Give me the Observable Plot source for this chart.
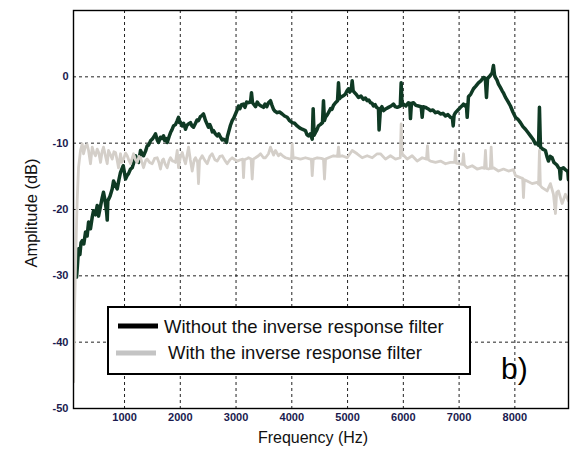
<!DOCTYPE html>
<html><head><meta charset="utf-8">
<script src="https://cdn.jsdelivr.net/npm/d3@7"></script>
<script src="https://cdn.jsdelivr.net/npm/@observablehq/plot@0.6"></script>
<style>
body{margin:0;background:#fff;}
#chart{width:573px;height:466px;}
</style>
</head><body><div id="chart"></div>
<script>
const xTicks = [1000, 2000, 3000, 4000, 5000, 6000, 7000, 8000];
const yTicks = [-50, -40, -30, -20, -10, 0];
const seriesNames = ["Without the inverse response filter", "With the inverse response filter"];

// [frequency (Hz), amplitude (dB)] — without the inverse response filter
const withoutFilter = [[140,-30.2],[155,-28.5],[175,-25.9],[200,-26.8],[220,-25.0],[242,-24.7],[270,-25.2],[301,-23.4],[330,-24.0],[355,-21.9],[375,-22.4],[390,-22.9],[420,-21.2],[444,-20.2],[480,-20.8],[510,-19.4],[534,-21.0],[570,-19.5],[600,-18.2],[623,-17.4],[650,-18.6],[680,-20.5],[690,-21.6],[700,-18.7],[740,-18.0],[779,-16.9],[803,-15.7],[840,-16.4],[869,-16.9],[900,-15.5],[928,-14.4],[977,-13.4],[1018,-15.4],[1045,-14.9],[1072,-14.6],[1108,-13.9],[1138,-13.7],[1170,-12.8],[1197,-11.9],[1228,-12.7],[1251,-12.9],[1287,-11.1],[1317,-11.6],[1341,-11.9],[1377,-11.2],[1407,-10.4],[1430,-10.3],[1470,-9.6],[1497,-9.4],[1530,-9.0],[1556,-8.6],[1586,-9.5],[1610,-9.9],[1645,-9.1],[1676,-9.3],[1700,-8.9],[1720,-9.6],[1745,-9.3],[1766,-9.9],[1800,-9.0],[1825,-8.4],[1850,-8.0],[1879,-7.4],[1914,-7.2],[1945,-6.6],[1968,-6.1],[1985,-6.9],[2000,-6.8],[2035,-7.4],[2060,-7.0],[2094,-7.9],[2120,-7.3],[2148,-7.1],[2183,-6.9],[2210,-7.4],[2237,-7.6],[2273,-7.0],[2300,-6.5],[2327,-6.6],[2360,-6.0],[2393,-5.8],[2416,-5.6],[2435,-6.1],[2452,-6.6],[2480,-7.1],[2506,-7.6],[2530,-7.2],[2550,-7.6],[2575,-8.3],[2596,-8.1],[2630,-8.6],[2662,-8.9],[2690,-8.6],[2721,-9.1],[2750,-9.5],[2775,-9.4],[2810,-9.6],[2829,-9.9],[2845,-9.0],[2865,-8.4],[2900,-7.3],[2931,-6.6],[2960,-6.2],[2990,-5.6],[3020,-5.0],[3044,-4.4],[3070,-4.8],[3100,-4.2],[3134,-4.1],[3160,-4.6],[3190,-3.8],[3223,-3.9],[3260,-3.8],[3277,-2.4],[3295,-3.9],[3313,-4.1],[3350,-4.5],[3380,-3.8],[3403,-4.1],[3450,-4.4],[3492,-4.6],[3520,-4.1],[3550,-4.5],[3582,-3.9],[3618,-3.6],[3645,-4.3],[3672,-4.9],[3700,-5.2],[3738,-5.4],[3780,-5.3],[3828,-5.6],[3870,-5.9],[3917,-6.1],[3960,-6.6],[4007,-6.9],[4050,-7.0],[4096,-7.4],[4140,-7.7],[4186,-7.9],[4245,-8.1],[4270,-8.7],[4299,-8.9],[4330,-8.6],[4366,-9.4],[4383,-4.8],[4400,-8.8],[4425,-8.4],[4450,-8.0],[4478,-7.4],[4510,-7.2],[4550,-6.9],[4568,-3.6],[4586,-6.6],[4604,-6.1],[4630,-5.8],[4658,-5.4],[4694,-4.8],[4720,-4.9],[4747,-4.3],[4783,-3.9],[4820,-3.6],[4837,-0.9],[4855,-3.3],[4873,-3.1],[4915,-2.9],[4962,-2.6],[4990,-2.1],[5016,-1.8],[5040,-2.3],[5065,-2.0],[5083,-0.6],[5100,-2.1],[5130,-2.4],[5160,-2.7],[5196,-3.1],[5240,-2.9],[5285,-3.4],[5320,-3.2],[5352,-3.6],[5380,-3.5],[5411,-3.9],[5440,-4.0],[5465,-4.4],[5495,-4.2],[5520,-4.6],[5554,-4.8],[5565,-8.0],[5590,-4.8],[5615,-4.5],[5644,-5.1],[5690,-4.8],[5734,-4.6],[5780,-4.4],[5823,-4.1],[5855,-4.5],[5890,-4.6],[5945,-4.4],[5961,-0.9],[5978,-4.3],[6002,-4.1],[6045,-4.4],[6092,-3.9],[6115,-4.0],[6128,-6.3],[6145,-4.0],[6182,-3.9],[6225,-4.3],[6271,-4.4],[6320,-4.5],[6338,-6.1],[6355,-4.5],[6397,-4.6],[6440,-4.8],[6487,-5.1],[6530,-5.0],[6577,-5.4],[6620,-5.3],[6666,-5.6],[6710,-5.5],[6756,-5.9],[6800,-5.7],[6845,-6.1],[6880,-6.2],[6894,-7.4],[6910,-5.8],[6935,-5.4],[6980,-5.0],[7025,-4.6],[7050,-4.4],[7079,-4.1],[7105,-4.4],[7130,-4.2],[7145,-6.1],[7168,-3.0],[7210,-2.6],[7258,-1.8],[7300,-1.4],[7347,-0.9],[7390,-0.6],[7437,-0.1],[7470,-0.2],[7491,-3.1],[7510,-0.3],[7527,-0.1],[7560,0.2],[7593,0.6],[7616,1.7],[7635,0.3],[7652,-0.1],[7680,-0.5],[7706,-1.1],[7740,-1.6],[7772,-2.1],[7800,-2.5],[7832,-3.1],[7875,-3.7],[7921,-4.4],[7965,-5.3],[8011,-6.1],[8055,-6.4],[8100,-6.9],[8145,-7.5],[8190,-7.9],[8235,-8.4],[8280,-8.9],[8325,-9.4],[8369,-10.1],[8400,-10.0],[8425,-10.3],[8441,-4.6],[8459,-10.6],[8500,-10.9],[8548,-11.1],[8575,-12.0],[8602,-12.7],[8635,-12.0],[8669,-12.2],[8700,-12.9],[8728,-13.1],[8755,-13.3],[8782,-13.7],[8800,-13.8],[8817,-15.4],[8830,-13.9],[8871,-13.7],[8905,-14.0],[8938,-14.2],[8950,-14.3],[8961,-15.5]];

// [frequency (Hz), amplitude (dB)] — with the inverse response filter
const withFilter = [[88,-46.0],[100,-36.0],[115,-31.0],[121,-28.7],[140,-22.0],[151,-18.7],[175,-13.7],[211,-11.1],[242,-10.1],[265,-11.6],[301,-10.4],[330,-10.2],[355,-11.1],[390,-13.1],[421,-10.6],[444,-11.3],[480,-11.9],[510,-10.9],[540,-11.5],[570,-12.9],[600,-11.2],[623,-10.6],[660,-12.0],[690,-13.1],[713,-11.1],[750,-11.8],[779,-12.4],[810,-11.3],[839,-11.4],[869,-12.6],[892,-13.7],[928,-11.6],[950,-12.9],[982,-12.4],[1018,-11.5],[1048,-11.9],[1080,-12.6],[1108,-13.1],[1161,-11.6],[1197,-12.5],[1228,-12.9],[1260,-12.0],[1287,-12.2],[1317,-13.0],[1341,-13.7],[1380,-12.6],[1407,-12.4],[1450,-12.9],[1497,-13.1],[1540,-12.3],[1586,-12.2],[1620,-13.0],[1645,-13.9],[1676,-12.6],[1699,-12.4],[1730,-13.2],[1766,-13.7],[1800,-12.6],[1825,-12.2],[1860,-12.7],[1879,-12.7],[1914,-12.9],[1945,-11.1],[1968,-13.7],[2000,-12.2],[2035,-11.4],[2070,-12.5],[2094,-13.1],[2148,-10.6],[2180,-12.5],[2214,-14.2],[2250,-12.5],[2273,-12.2],[2310,-12.9],[2327,-16.1],[2345,-12.6],[2393,-11.9],[2440,-12.6],[2483,-13.1],[2530,-12.0],[2572,-11.6],[2620,-12.5],[2662,-12.7],[2710,-12.0],[2752,-11.9],[2800,-12.6],[2841,-13.1],[2890,-12.5],[2931,-12.2],[2980,-12.5],[3021,-12.7],[3080,-12.5],[3120,-12.4],[3134,-15.2],[3150,-12.5],[3200,-12.3],[3223,-12.2],[3270,-12.4],[3290,-15.4],[3310,-12.4],[3349,-12.2],[3403,-11.9],[3439,-11.6],[3492,-12.2],[3528,-12.2],[3582,-11.6],[3618,-10.6],[3672,-11.8],[3707,-11.1],[3761,-11.9],[3797,-11.6],[3850,-12.0],[3887,-12.2],[3976,-12.4],[3995,-12.3],[4007,-10.1],[4025,-12.3],[4066,-12.2],[4156,-12.4],[4245,-12.2],[4335,-12.4],[4350,-12.4],[4366,-14.9],[4385,-12.4],[4455,-12.2],[4530,-12.3],[4568,-12.4],[4586,-15.4],[4605,-12.4],[4658,-12.2],[4747,-11.9],[4820,-12.0],[4837,-10.6],[4855,-12.0],[4903,-11.9],[4993,-12.2],[5083,-11.1],[5172,-11.6],[5262,-12.2],[5352,-11.9],[5442,-12.2],[5531,-11.6],[5590,-11.6],[5680,-12.4],[5769,-11.9],[5859,-12.4],[5945,-12.2],[5961,-7.1],[5978,-11.6],[6069,-12.4],[6158,-11.9],[6248,-12.7],[6338,-12.2],[6415,-12.4],[6433,-10.4],[6450,-12.5],[6487,-12.7],[6577,-12.9],[6666,-12.7],[6756,-13.1],[6845,-12.9],[6920,-12.9],[6935,-11.1],[6950,-13.0],[6989,-13.1],[7060,-13.2],[7079,-11.6],[7095,-13.3],[7145,-13.7],[7235,-13.4],[7324,-13.9],[7413,-13.7],[7455,-13.8],[7473,-11.1],[7490,-13.8],[7527,-13.9],[7560,-13.8],[7575,-10.6],[7593,-13.8],[7616,-13.7],[7706,-14.2],[7796,-13.9],[7885,-14.2],[7975,-14.0],[8011,-14.9],[8100,-15.2],[8140,-15.3],[8154,-18.2],[8170,-15.5],[8220,-15.7],[8310,-16.1],[8400,-15.9],[8425,-16.2],[8441,-11.1],[8458,-16.4],[8489,-16.7],[8579,-17.2],[8638,-16.1],[8692,-17.7],[8728,-20.6],[8750,-17.4],[8782,-17.2],[8848,-19.1],[8907,-17.7],[8961,-18.7]];

const font = "Arial, 'Liberation Sans', sans-serif";
const tickColor = "#1a1a4e";

const chart = Plot.plot({
  width: 573, height: 466,
  marginLeft: 73, marginRight: 5, marginTop: 10, marginBottom: 58,
  style: {fontFamily: font, fontSize: "11px", fontWeight: "bold", background: "#fff", color: tickColor},
  x: {domain: [85, 8962], label: null},
  y: {domain: [-50, 10], label: null},
  marks: [
    Plot.gridX(xTicks, {stroke: "#222", strokeOpacity: 1, strokeDasharray: "3,3"}),
    Plot.gridY(yTicks, {stroke: "#222", strokeOpacity: 1, strokeDasharray: "3,3"}),
    Plot.line(withoutFilter, {x: d => d[0], y: d => d[1], stroke: "#0f3a24", strokeWidth: 3.5, clip: true}),
    Plot.line(withFilter, {x: d => d[0], y: d => d[1], stroke: "#d4cfc9", strokeWidth: 2.8, clip: true}),
    Plot.frame({stroke: "#000", strokeWidth: 1.4}),
    Plot.axisX(xTicks, {tickSize: 0, tickPadding: 5, fill: tickColor, tickFormat: d => String(d), label: null}),
    Plot.axisY(yTicks, {tickSize: 0, tickPadding: 5, fill: tickColor, tickFormat: d => String(d), label: null})
  ]
});
document.getElementById("chart").appendChild(chart);

const svg = d3.select(chart);
svg.append("text").attr("x", 313).attr("y", 443).attr("text-anchor", "middle").attr("font-weight", "normal")
  .attr("font-family", font).attr("font-size", 16).attr("fill", "#111").text("Frequency (Hz)");
svg.append("text").attr("transform", "translate(37,213) rotate(-90)").attr("text-anchor", "middle").attr("font-weight", "normal")
  .attr("font-family", font).attr("font-size", 16.5).attr("fill", "#111").text("Amplitude (dB)");

// legend
const lg = svg.append("g").attr("text-anchor", "start").attr("font-weight", "normal");
lg.append("rect").attr("x", 108).attr("y", 307).attr("width", 362).attr("height", 67)
  .attr("fill", "#fff").attr("stroke", "#000").attr("stroke-width", 2);
lg.append("line").attr("x1", 118).attr("x2", 158).attr("y1", 326).attr("y2", 326)
  .attr("stroke", "#000").attr("stroke-width", 5);
lg.append("line").attr("x1", 116).attr("x2", 156).attr("y1", 353).attr("y2", 353)
  .attr("stroke", "#c4c4c4").attr("stroke-width", 5);
lg.append("text").attr("x", 164).attr("y", 333).attr("font-family", font).attr("font-size", 18.5)
  .attr("fill", "#111").text(seriesNames[0]);
lg.append("text").attr("x", 168).attr("y", 359).attr("font-family", font).attr("font-size", 18.5)
  .attr("fill", "#111").text(seriesNames[1]);
svg.append("text").attr("x", 501).attr("y", 379).attr("text-anchor", "start").attr("font-weight", "normal").attr("font-family", font).attr("font-size", 30)
  .attr("fill", "#000").text("b)");
</script></body></html>
